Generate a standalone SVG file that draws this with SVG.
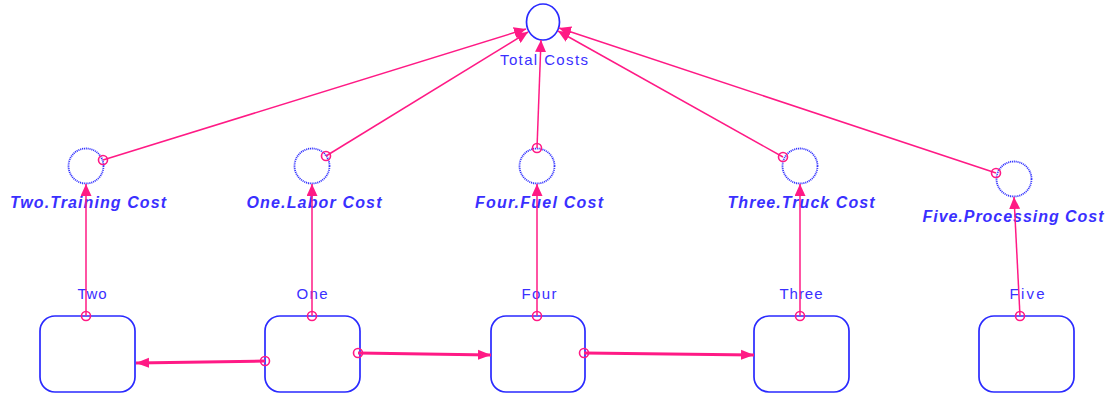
<svg xmlns="http://www.w3.org/2000/svg" width="1114" height="394" viewBox="0 0 1114 394">
  <style>
    .stock { fill: #ffffff; stroke: #2a2aff; stroke-width: 1.7; }
    .aux { fill: #ffffff; stroke: #3434ff; stroke-width: 1.8; stroke-dasharray: 1.1 0.8; }
    .conv { fill: #ffffff; stroke: #2a2aff; stroke-width: 1.7; }
    .name { font-family: "Liberation Sans", Arial, sans-serif; font-size: 15px; fill: #3a30ff; text-anchor: middle; }
    .auxname { font-family: "Liberation Sans", Arial, sans-serif; font-size: 16px; font-weight: bold; font-style: italic; fill: #3a30ff; text-anchor: middle; }
    .info { stroke: #ff1a85; stroke-width: 1.5; fill: none; marker-end: url(#infoHead); }
    .flow { stroke: #ff1a85; stroke-width: 3; fill: none; marker-end: url(#flowHead); }
    .port { stroke: #ff1a85; stroke-width: 1.6; fill: none; }
  </style>
  <defs>
    <marker id="infoHead" markerUnits="userSpaceOnUse" markerWidth="13" markerHeight="11" refX="12" refY="5.5" orient="auto">
      <path d="M0,0 L12,5.5 L0,11 Z" fill="#ff1a85"/>
    </marker>
    <marker id="flowHead" markerUnits="userSpaceOnUse" markerWidth="14" markerHeight="11" refX="13" refY="5.5" orient="auto">
      <path d="M0,0.5 L13,5.5 L0,10.5 Z" fill="#ff1a85"/>
    </marker>
  </defs>
  <rect width="1114" height="394" fill="#ffffff"/>

  <!-- converter -->
  <g id="total-costs">
    <ellipse class="conv" cx="543" cy="22" rx="16.5" ry="18"/>
    <text class="name" x="544" y="65" textLength="88" lengthAdjust="spacing">Total Costs</text>
  </g>

  <!-- auxiliary variables -->
  <g id="two-training-cost">
    <circle class="aux" cx="86" cy="166" r="17.5"/>
    <text class="auxname" x="88" y="208" textLength="156" lengthAdjust="spacing">Two.Training Cost</text>
  </g>
  <g id="one-labor-cost">
    <circle class="aux" cx="312" cy="166" r="17.5"/>
    <text class="auxname" x="314" y="208" textLength="135" lengthAdjust="spacing">One.Labor Cost</text>
  </g>
  <g id="four-fuel-cost">
    <circle class="aux" cx="537" cy="166" r="17.5"/>
    <text class="auxname" x="539" y="208" textLength="128" lengthAdjust="spacing">Four.Fuel Cost</text>
  </g>
  <g id="three-truck-cost">
    <circle class="aux" cx="800" cy="166" r="17.5"/>
    <text class="auxname" x="801" y="208" textLength="147" lengthAdjust="spacing">Three.Truck Cost</text>
  </g>
  <g id="five-processing-cost">
    <circle class="aux" cx="1014" cy="179" r="17.5"/>
    <text class="auxname" x="1013" y="222" textLength="181" lengthAdjust="spacing">Five.Processing Cost</text>
  </g>

  <!-- stocks -->
  <g id="two">
    <rect class="stock" x="40" y="316" width="95" height="76" rx="15"/>
    <text class="name" x="92" y="299" textLength="29" lengthAdjust="spacing">Two</text>
  </g>
  <g id="one">
    <rect class="stock" x="265" y="316" width="95" height="76" rx="15"/>
    <text class="name" x="312" y="299" textLength="31" lengthAdjust="spacing">One</text>
  </g>
  <g id="four">
    <rect class="stock" x="491" y="316" width="94" height="76" rx="15"/>
    <text class="name" x="539" y="299" textLength="35" lengthAdjust="spacing">Four</text>
  </g>
  <g id="three">
    <rect class="stock" x="754" y="316" width="95" height="76" rx="15"/>
    <text class="name" x="801" y="299" textLength="43" lengthAdjust="spacing">Three</text>
  </g>
  <g id="five">
    <rect class="stock" x="979" y="316" width="95" height="76" rx="15"/>
    <text class="name" x="1027" y="299" textLength="35" lengthAdjust="spacing">Five</text>
  </g>

  <!-- links -->
  <g id="connectors">
    <!-- costs into the total -->
    <line class="info" x1="103" y1="160" x2="526" y2="29"/>
    <line class="info" x1="326" y1="156" x2="528" y2="32"/>
    <line class="info" x1="537" y1="148" x2="541" y2="40"/>
    <line class="info" x1="783" y1="157" x2="558" y2="31"/>
    <line class="info" x1="996" y1="173" x2="559" y2="28"/>
    <circle class="port" cx="103" cy="160" r="4.5"/>
    <circle class="port" cx="326" cy="156" r="4.5"/>
    <circle class="port" cx="537" cy="148" r="4.5"/>
    <circle class="port" cx="783" cy="157" r="4.5"/>
    <circle class="port" cx="996" cy="173" r="4.5"/>

    <!-- stocks into their costs -->
    <line class="info" x1="86" y1="316" x2="86" y2="184"/>
    <line class="info" x1="312" y1="316" x2="312" y2="184"/>
    <line class="info" x1="537" y1="316" x2="537" y2="184"/>
    <line class="info" x1="800" y1="316" x2="800" y2="184"/>
    <line class="info" x1="1020" y1="316" x2="1014" y2="197"/>
    <circle class="port" cx="86" cy="316" r="4.5"/>
    <circle class="port" cx="312" cy="316" r="4.5"/>
    <circle class="port" cx="537" cy="316" r="4.5"/>
    <circle class="port" cx="800" cy="316" r="4.5"/>
    <circle class="port" cx="1020" cy="316" r="4.5"/>

    <!-- flows between stocks -->
    <line class="flow" x1="265" y1="361" x2="136" y2="363"/>
    <line class="flow" x1="358" y1="353" x2="491" y2="355"/>
    <line class="flow" x1="584" y1="353" x2="754" y2="355"/>
    <circle class="port" cx="265" cy="361" r="4.5"/>
    <circle class="port" cx="358" cy="353" r="4.5"/>
    <circle class="port" cx="584" cy="353" r="4.5"/>
  </g>
</svg>
